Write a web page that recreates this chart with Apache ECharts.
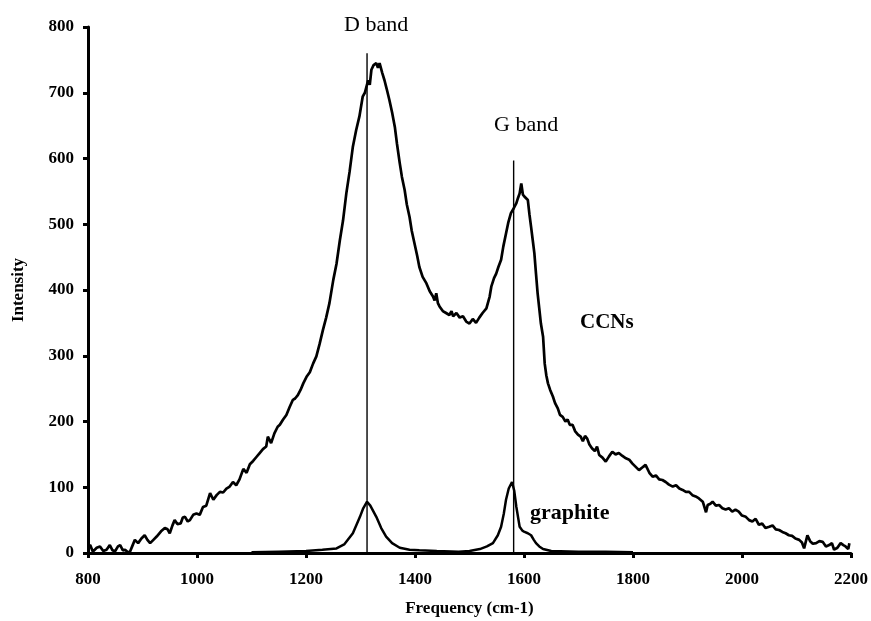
<!DOCTYPE html>
<html><head><meta charset="utf-8">
<script src="https://cdn.jsdelivr.net/npm/echarts@6/dist/echarts.min.js"></script>
<style>html,body{margin:0;padding:0;background:#fff}#c{width:871px;height:621px}</style>
</head><body><div id="c"></div>
<script>
const ccnsX = [800,804,809,816,822,828,834,840,845,850,855,859,864,868,873,877,882,886,892,898,904,909,914,920,926,934,941,946,950,955,959,964,970,974,978,983,987,993,999,1005,1011,1017,1024,1030,1036,1042,1048,1054,1060,1066,1072,1078,1085,1091,1097,1103,1109,1115,1121,1127,1130,1136,1142,1148,1152,1158,1164,1170,1176,1180,1185,1190,1195,1201,1207,1213,1219,1225,1231,1237,1243,1250,1256,1262,1268,1274,1280,1286,1292,1298,1304,1308,1314,1317,1320,1324,1329,1332,1335,1340,1344,1348,1353,1358,1363,1367,1372,1376,1381,1385,1390,1394,1399,1404,1408,1414,1421,1427,1433,1436,1439,1442,1445,1451,1457,1463,1467,1470,1476,1482,1488,1494,1500,1506,1512,1518,1524,1531,1537,1540,1545,1549,1553,1558,1562,1567,1571,1576,1581,1586,1589,1592,1595,1598,1602,1607,1610,1613,1616,1619,1622,1625,1628,1631,1635,1638,1641,1644,1648,1653,1657,1662,1666,1671,1676,1680,1684,1689,1694,1699,1704,1708,1712,1716,1720,1725,1730,1734,1738,1744,1750,1756,1762,1768,1774,1780,1787,1793,1799,1805,1811,1817,1823,1830,1836,1842,1848,1854,1860,1866,1873,1879,1885,1891,1897,1903,1909,1915,1921,1928,1934,1937,1942,1946,1952,1958,1964,1970,1976,1982,1988,1994,2000,2007,2013,2019,2025,2031,2037,2043,2050,2056,2062,2068,2074,2080,2086,2092,2098,2105,2110,2114,2120,2125,2130,2136,2142,2148,2154,2160,2165,2169,2175,2181,2186,2190,2195,2197];
const ccnsY = [10,12,2,8,10,3,5,12,4,3,10,12,4,5,1,2,12,20,15,22,27,20,15,20,25,33,38,36,30,42,50,44,45,54,55,48,50,58,60,58,70,72,91,81,88,93,92,98,101,108,103,112,128,122,135,140,146,152,158,162,177,167,182,192,195,203,210,222,233,235,240,248,258,268,275,288,299,318,339,358,380,415,440,475,506,547,580,618,643,664,694,700,719,712,735,742,745,738,745,730,719,706,689,670,648,622,593,572,552,530,511,490,471,452,435,420,410,398,390,384,395,380,375,368,365,362,368,360,365,358,360,352,349,356,350,358,365,372,390,405,418,425,435,446,466,486,502,517,524,532,540,547,562,545,541,537,515,496,476,456,425,395,372,349,329,288,270,258,248,238,228,220,210,207,200,203,195,195,185,180,177,170,178,174,165,159,155,162,149,145,139,147,154,150,152,148,144,142,136,131,126,130,134,122,116,118,112,111,108,104,101,103,98,96,93,93,88,86,83,78,62,73,75,78,72,73,68,66,68,63,66,63,57,55,50,48,52,43,45,38,40,42,36,35,32,30,27,26,22,20,16,7,27,18,14,15,18,17,10,12,15,5,8,15,12,10,6,15];
const graphiteX = [1100,1150,1200,1230,1256,1270,1286,1299,1305,1312,1318,1329,1338,1347,1358,1372,1390,1408,1440,1480,1500,1519,1532,1543,1552,1558,1563,1567,1572,1578,1582,1586,1592,1597,1601,1607,1613,1618,1622,1628,1635,1650,1700,1750,1800];
const graphiteY = [1,2,3,5,7,13,30,55,68,78,72,55,38,25,15,8,5,4,3,2,3,6,10,15,27,40,60,81,98,108,95,70,40,34,32,30,27,20,15,10,6,3,2,2,1];
const dBand = {x: 1312, top: 760};
const gBand = {x: 1581, top: 597};

const zip = (xs, ys) => xs.map((x, i) => [x, ys[i]]);
const serif = '"Liberation Serif", "Times New Roman", serif';
const chart = echarts.init(document.getElementById('c'));
const labelStyle = {color: '#000', fontFamily: serif, fontWeight: 'bold', fontSize: 17, formatter: v => String(v)};
const axisCommon = {
  axisLine: {show: true, lineStyle: {color: '#000', width: 3}},
  axisTick: {show: true, length: 5, lineStyle: {color: '#000', width: 3}},
  splitLine: {show: false},
  nameTextStyle: {color: '#000', fontFamily: serif, fontWeight: 'bold', fontSize: 17}
};
chart.setOption({
  animation: false,
  grid: {left: 88, right: 20, top: 27, bottom: 68, containLabel: false, outerBoundsMode: 'none'},
  xAxis: Object.assign({}, axisCommon, {
    type: 'value', min: 800, max: 2200, interval: 200,
    name: 'Frequency (cm-1)', nameLocation: 'middle', nameGap: 47,
    axisLabel: Object.assign({}, labelStyle, {margin: 18})
  }),
  yAxis: Object.assign({}, axisCommon, {
    type: 'value', min: 0, max: 800, interval: 100,
    name: 'Intensity', nameLocation: 'middle', nameGap: 61, nameRotate: 90,
    axisLabel: Object.assign({}, labelStyle, {margin: 14})
  }),
  series: [
    {type: 'line', name: 'CCNs', data: zip(ccnsX, ccnsY), showSymbol: false, symbol: 'none',
     lineStyle: {color: '#000', width: 2.7}, z: 3},
    {type: 'line', name: 'graphite', data: zip(graphiteX, graphiteY), showSymbol: false, symbol: 'none',
     lineStyle: {color: '#000', width: 2.5}, z: 3},
    {type: 'line', data: [[dBand.x, 0], [dBand.x, dBand.top]], symbol: 'none',
     lineStyle: {color: '#000', width: 1.4}, z: 2},
    {type: 'line', data: [[gBand.x, 0], [gBand.x, gBand.top]], symbol: 'none',
     lineStyle: {color: '#000', width: 1.4}, z: 2}
  ],
  graphic: [
    {type: 'text', left: 344, top: 14, style: {text: 'D band', font: '22px ' + serif, fill: '#000'}},
    {type: 'text', left: 494, top: 114, style: {text: 'G band', font: '22px ' + serif, fill: '#000'}},
    {type: 'text', left: 580, top: 312, style: {text: 'CCNs', font: 'bold 21px ' + serif, fill: '#000'}},
    {type: 'text', left: 530, top: 502, style: {text: 'graphite', font: 'bold 22px ' + serif, fill: '#000'}}
  ]
});
</script></body></html>
